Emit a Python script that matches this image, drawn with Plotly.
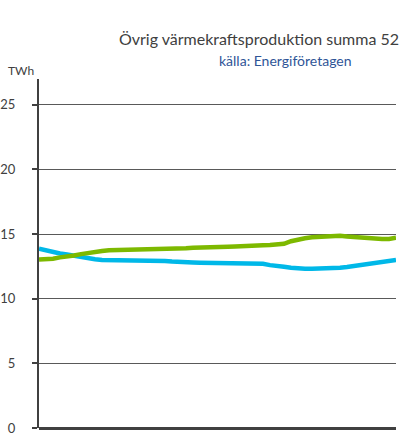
import plotly.graph_objects as go

weeks = list(range(1, 53))

green_values = [13.04, 13.05, 13.1, 13.2, 13.25, 13.35, 13.45, 13.55, 13.65, 13.7,
                13.75, 13.76, 13.76, 13.76, 13.76, 13.76, 13.78, 13.85, 13.87, 13.87,
                13.87, 13.9, 13.95, 13.95, 13.95, 13.95, 13.98, 14.03, 14.05, 14.05,
                14.08, 14.12, 14.13, 14.15, 14.2, 14.25, 14.45, 14.6, 14.68, 14.75,
                14.78, 14.85, 14.9, 14.88, 14.82, 14.78, 14.75, 14.68, 14.62, 14.62,
                14.63, 14.72]

blue_values = [13.87, 13.72, 13.6, 13.5, 13.42, 13.32, 13.2, 13.13, 13.05, 13.0,
               13.0, 13.0, 13.0, 13.0, 13.0, 13.0, 13.0, 13.0, 12.92, 12.88,
               12.88, 12.86, 12.8, 12.78, 12.78, 12.78, 12.78, 12.78, 12.78, 12.78,
               12.72, 12.7, 12.7, 12.6, 12.5, 12.47, 12.4, 12.33, 12.32, 12.32,
               12.32, 12.32, 12.32, 12.4, 12.45, 12.52, 12.63, 12.72, 12.8, 12.88,
               12.92, 13.0]

y_ticks = [0, 5, 10, 15, 20, 25]

title_text = "Övrig värmekraftsproduktion summa 52"
source_text = "källa: Energiföretagen"
unit_text = "TWh"

FONT = "Lato, 'Open Sans', sans-serif"

fig = go.Figure()
fig.add_trace(go.Scatter(x=weeks, y=blue_values, mode="lines",
                         line=dict(color="#00B8E8", width=4.5), showlegend=False,
                         hoverinfo="skip"))
fig.add_trace(go.Scatter(x=weeks, y=green_values, mode="lines",
                         line=dict(color="#7DB900", width=4.5), showlegend=False,
                         hoverinfo="skip"))

fig.update_layout(
    width=407, height=437,
    margin=dict(l=39, r=11, t=79, b=9, autoexpand=False),
    paper_bgcolor="white", plot_bgcolor="white",
    font=dict(family=FONT, size=13, color="#404040"),
    xaxis=dict(range=[1, 52], showgrid=False, zeroline=False, showticklabels=False,
               ticks="", showline=False, fixedrange=True, automargin=False),
    yaxis=dict(range=[0, 27], tickvals=y_ticks, ticks="outside", ticklen=5,
               tickwidth=1.5, tickcolor="#404040", showline=True, linewidth=2,
               linecolor="#404040", showgrid=True, gridcolor="#595959", gridwidth=1,
               zeroline=True, zerolinecolor="#404040", zerolinewidth=2.5,
               tickfont=dict(size=13, color="#404040"), ticklabelstandoff=14,
               automargin=False, fixedrange=True),
    annotations=[
        dict(text=title_text, xref="paper", yref="paper", x=(117 - 39) / 357,
             y=1 + (79 - 38) / 349.5, xanchor="left", yanchor="middle",
             showarrow=False, font=dict(size=16, color="#404040", family=FONT)),
        dict(text=source_text, xref="paper", yref="paper", x=(285 - 39) / 357,
             y=1 + (79 - 60) / 349.5, xanchor="center", yanchor="middle",
             showarrow=False, font=dict(size=14, color="#2F5597", family=FONT)),
        dict(text=unit_text, xref="paper", yref="paper", x=(21 - 39) / 357,
             y=1 + (79 - 70) / 349.5, xanchor="center", yanchor="middle",
             showarrow=False, font=dict(size=12, color="#404040", family=FONT)),
    ],
)

fig.write_html("out.html", config={"displayModeBar": False},
               post_script="document.body.style.margin='0';document.body.style.overflow='hidden';")
